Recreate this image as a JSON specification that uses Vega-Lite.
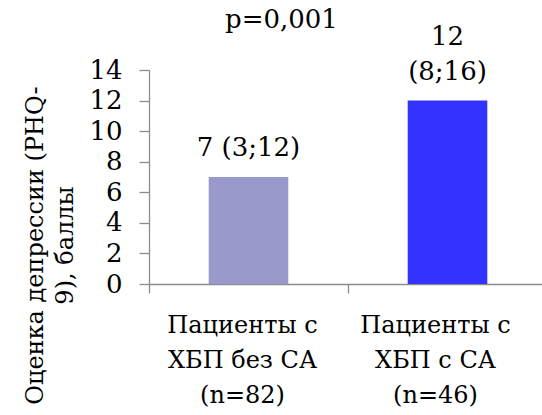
{
  "$schema": "https://vega.github.io/schema/vega-lite/v6.json",
  "width": 393,
  "height": 214,
  "autosize": "none",
  "padding": {"left": 149, "top": 70, "right": 0, "bottom": 131},
  "background": "white",
  "config": {
    "font": "DejaVu Serif",
    "text": {"font": "DejaVu Serif"},
    "view": {"stroke": null},
    "axis": {"labelColor": "black", "titleColor": "black", "domainColor": "#8c8c8c", "tickColor": "#8c8c8c", "domainWidth": 1.3, "tickWidth": 1.3, "grid": false, "labelFont": "DejaVu Serif", "titleFont": "DejaVu Serif", "titleFontWeight": "normal"},
    "title": {"font": "DejaVu Serif"}
  },
  "title": {
    "text": "p=0,001",
    "frame": "group",
    "anchor": "start",
    "dx": 76,
    "dy": 30,
    "baseline": "alphabetic",
    "fontSize": 26,
    "fontWeight": "normal",
    "color": "black",
    "offset": 0
  },
  "data": {
    "values": [
      {"group": "Пациенты с\nХБП без СА\n(n=82)", "value": 7, "line1": "", "line2": "7 (3;12)"},
      {"group": "Пациенты с\nХБП с СА\n(n=46)", "value": 12, "line1": "12", "line2": "(8;16)"}
    ]
  },
  "encoding": {
    "x": {
      "field": "group",
      "type": "nominal",
      "sort": null,
      "scale": {"paddingInner": 0, "paddingOuter": 0, "range": [0, 398]},
      "axis": {
        "title": null,
        "labelAngle": 0,
        "labelExpr": "split(datum.label, '\\n')",
        "labelFontSize": 24,
        "labelLineHeight": 35,
        "labelPadding": 20,
        "tickSize": 9,
        "bandPosition": 0,
        "labelOffset": {"condition": {"test": "indexof(datum.label, '46') >= 0", "value": -12}, "value": -6}
      }
    },
    "y": {
      "field": "value",
      "type": "quantitative",
      "scale": {"domain": [0, 14], "nice": false},
      "axis": {
        "values": [0, 2, 4, 6, 8, 10, 12, 14],
        "labelFontSize": 26,
        "labelPadding": 17,
        "tickSize": 10,
        "title": ["Оценка депрессии (PHQ-", "9), баллы"],
        "titleFontSize": 24,
        "titleLineHeight": 30,
        "titleAngle": -90,
        "titleBaseline": "bottom",
        "titleAlign": "center",
        "titleX": -102,
        "titleY": 175
      }
    }
  },
  "layer": [
    {
      "mark": {"type": "bar", "width": {"band": 0.4}},
      "encoding": {
        "color": {
          "field": "group",
          "type": "nominal",
          "sort": null,
          "scale": {"range": ["#9999cc", "#3333ff"]},
          "legend": null
        }
      }
    },
    {
      "mark": {"type": "text", "fontSize": 26, "baseline": "alphabetic", "dy": -21, "color": "black"},
      "encoding": {"text": {"field": "line2"}}
    },
    {
      "mark": {"type": "text", "fontSize": 26, "baseline": "alphabetic", "dy": -56, "color": "black"},
      "encoding": {"text": {"field": "line1"}}
    }
  ]
}
